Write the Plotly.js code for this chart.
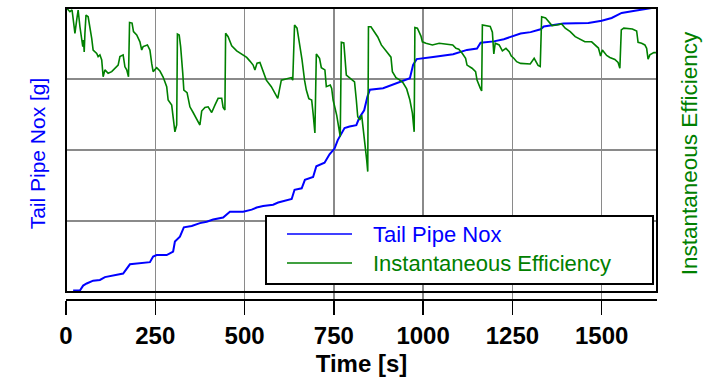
<!DOCTYPE html>
<html>
<head>
<meta charset="utf-8">
<script src="https://cdn.plot.ly/plotly-3.0.1.min.js"></script>
<style>html,body{margin:0;padding:0;background:#fff;}#chart{width:712px;height:377px;}</style>
</head>
<body>
<div id="chart"></div>
<script>
// Tail Pipe Nox (cumulative) [g]
var noxTime = [20,39,48,58,76,95,109,132,146,160,179,207,235,244,254,282,300,305,319,330,352,375,394,412,440,459,496,520,534,552,580,594,618,632,640,660,669,692,701,724,738,752,761,771,780,794,813,821,835,844,851,888,916,935,963,972,982,1028,1084,1123,1151,1161,1198,1226,1245,1263,1273,1301,1329,1338,1393,1463,1500,1528,1556,1593,1612,1640,1652];
var noxValue = [0.02,0.02,0.09,0.12,0.16,0.17,0.21,0.23,0.25,0.26,0.39,0.40,0.42,0.50,0.52,0.52,0.57,0.71,0.78,0.91,0.93,0.97,0.99,1.02,1.05,1.13,1.13,1.16,1.19,1.21,1.23,1.26,1.29,1.31,1.44,1.46,1.58,1.62,1.77,1.82,1.94,2.02,2.14,2.24,2.31,2.33,2.35,2.45,2.56,2.75,2.85,2.87,2.92,2.96,3.01,3.20,3.28,3.31,3.35,3.41,3.43,3.51,3.53,3.56,3.59,3.62,3.64,3.66,3.70,3.74,3.78,3.79,3.82,3.86,3.93,3.96,3.98,4.0,4.0];

// Instantaneous Efficiency
var effTime = [2,11,17,21,25,30,32,34,39,44,47,49,51,53,56,62,67,72,76,86,90,95,100,104,109,118,128,137,146,151,160,165,170,175,178,185,189,198,207,212,216,228,235,240,244,254,263,272,282,286,296,300,305,310,312,317,321,327,330,339,347,356,366,375,380,389,398,408,417,426,436,440,445,447,454,464,478,492,506,515,524,529,535,543,551,561,575,584,593,603,619,631,635,640,647,654,661,668,673,680,688,692,697,701,710,715,725,729,740,744,748,758,763,768,771,778,785,799,808,813,817,823,828,832,837,842,845,847,854,863,873,883,891,901,910,914,924,933,943,954,963,970,975,977,984,994,998,1008,1026,1045,1064,1083,1092,1100,1110,1119,1123,1137,1147,1151,1160,1164,1166,1178,1188,1194,1198,1202,1213,1222,1232,1241,1247,1254,1262,1273,1287,1300,1311,1317,1322,1328,1332,1343,1353,1361,1374,1388,1398,1412,1426,1439,1453,1472,1481,1491,1497,1502,1514,1523,1537,1546,1551,1555,1562,1586,1598,1602,1612,1621,1626,1630,1635,1640,1646,1652];
var effValue = [0.999,0.987,0.993,0.940,0.911,0.958,0.993,0.993,0.934,0.899,0.864,0.887,0.845,0.911,0.975,0.969,0.934,0.893,0.852,0.840,0.829,0.835,0.817,0.758,0.782,0.770,0.776,0.788,0.799,0.829,0.835,0.793,0.782,0.758,0.949,0.947,0.917,0.905,0.881,0.852,0.864,0.870,0.852,0.805,0.776,0.790,0.778,0.757,0.723,0.676,0.658,0.616,0.564,0.588,0.908,0.905,0.864,0.770,0.711,0.702,0.652,0.632,0.606,0.588,0.637,0.650,0.652,0.632,0.658,0.682,0.682,0.650,0.641,0.911,0.899,0.867,0.849,0.838,0.826,0.813,0.799,0.782,0.806,0.808,0.782,0.746,0.723,0.700,0.682,0.746,0.752,0.755,0.746,0.940,0.929,0.880,0.817,0.746,0.711,0.681,0.676,0.629,0.560,0.838,0.823,0.790,0.782,0.723,0.729,0.717,0.676,0.623,0.588,0.547,0.879,0.877,0.764,0.750,0.740,0.676,0.617,0.606,0.623,0.577,0.528,0.465,0.424,0.934,0.934,0.917,0.898,0.870,0.858,0.840,0.827,0.776,0.755,0.748,0.738,0.715,0.676,0.630,0.564,0.931,0.929,0.901,0.881,0.876,0.870,0.876,0.873,0.870,0.858,0.855,0.840,0.823,0.799,0.788,0.776,0.746,0.718,0.708,0.940,0.937,0.935,0.915,0.838,0.876,0.870,0.849,0.858,0.846,0.831,0.823,0.811,0.805,0.805,0.803,0.823,0.808,0.798,0.794,0.969,0.965,0.949,0.938,0.940,0.944,0.929,0.917,0.899,0.889,0.881,0.881,0.871,0.859,0.831,0.852,0.833,0.826,0.819,0.808,0.788,0.923,0.929,0.926,0.919,0.879,0.876,0.870,0.858,0.820,0.835,0.840,0.843,0.843];

var xTicks = [0,250,500,750,1000,1250,1500];
var seriesNames = ['Tail Pipe Nox', 'Instantaneous Efficiency'];
var seriesColors = ['#0000ff', '#008000'];

var FONT = 'Liberation Sans, Arial, sans-serif';

var traces = [
  {x: noxTime, y: noxValue, type: 'scatter', mode: 'lines', name: seriesNames[0],
   line: {color: seriesColors[0], width: 2}, yaxis: 'y'},
  {x: effTime, y: effValue, type: 'scatter', mode: 'lines', name: seriesNames[1],
   line: {color: seriesColors[1], width: 1.6}, yaxis: 'y2'}
];

// paper-coordinate helpers for the hand-drawn legend (plot area: x 66..657, y 8..299 px)
function px(x){ return (x - 66) / 591; }
function py(y){ return (299 - y) / 291; }

var layout = {
  width: 712, height: 377,
  margin: {l: 66, r: 55, t: 8, b: 78},
  paper_bgcolor: '#ffffff', plot_bgcolor: '#ffffff',
  font: {family: FONT, color: '#000'},
  showlegend: false,
  xaxis: {
    range: [0, 1655],
    tickmode: 'array', tickvals: xTicks, ticktext: xTicks.map(String),
    showgrid: true, gridcolor: '#8a8a8a', gridwidth: 1.5,
    zeroline: false,
    showline: true, linecolor: '#000', linewidth: 2,
    ticks: 'outside', ticklen: 14, tickwidth: 1.5, tickcolor: '#000',
    tickfont: {family: FONT, size: 24, weight: 'bold', color: '#000'},
    title: {text: 'Time [s]', font: {family: FONT, size: 24, weight: 'bold', color: '#000'}, standoff: 7}
  },
  yaxis: {
    range: [-7/71, 4],
    tickmode: 'array', tickvals: [1, 2, 3],
    showticklabels: false, ticks: '',
    showgrid: true, gridcolor: '#8a8a8a', gridwidth: 1.5,
    zeroline: false, showline: false,
    title: {text: 'Tail Pipe Nox [g]', font: {family: FONT, size: 21, color: '#0000ff'}, standoff: 13}
  },
  yaxis2: {
    overlaying: 'y', side: 'right',
    range: [-7/284, 1],
    showgrid: false, zeroline: false, showline: false,
    showticklabels: false, ticks: '',
    title: {text: 'Instantaneous Efficiency', font: {family: FONT, size: 22.5, color: '#008000'}, standoff: 24}
  },
  shapes: [
    // plot frame
    {type: 'rect', xref: 'paper', yref: 'paper', x0: 0, x1: 1, y0: py(292), y1: 1,
     line: {color: '#000', width: 2}, fillcolor: 'rgba(0,0,0,0)', layer: 'above'},
    // legend box
    {type: 'rect', xref: 'paper', yref: 'paper', x0: px(266), x1: px(653), y0: py(284), y1: py(216),
     line: {color: '#000', width: 2}, fillcolor: '#ffffff', layer: 'above'},
    {type: 'line', xref: 'paper', yref: 'paper', x0: px(287), x1: px(352), y0: py(234), y1: py(234),
     line: {color: seriesColors[0], width: 1.6}, layer: 'above'},
    {type: 'line', xref: 'paper', yref: 'paper', x0: px(287), x1: px(352), y0: py(263), y1: py(263),
     line: {color: seriesColors[1], width: 1.6}, layer: 'above'}
  ],
  annotations: [
    {xref: 'paper', yref: 'paper', x: px(371), y: py(234), xanchor: 'left', yanchor: 'middle',
     text: seriesNames[0], showarrow: false, font: {family: FONT, size: 22, color: seriesColors[0]}},
    {xref: 'paper', yref: 'paper', x: px(371), y: py(263), xanchor: 'left', yanchor: 'middle',
     text: seriesNames[1], showarrow: false, font: {family: FONT, size: 22, color: seriesColors[1]}}
  ]
};

Plotly.newPlot('chart', traces, layout, {staticPlot: true, displayModeBar: false});
</script>
</body>
</html>
